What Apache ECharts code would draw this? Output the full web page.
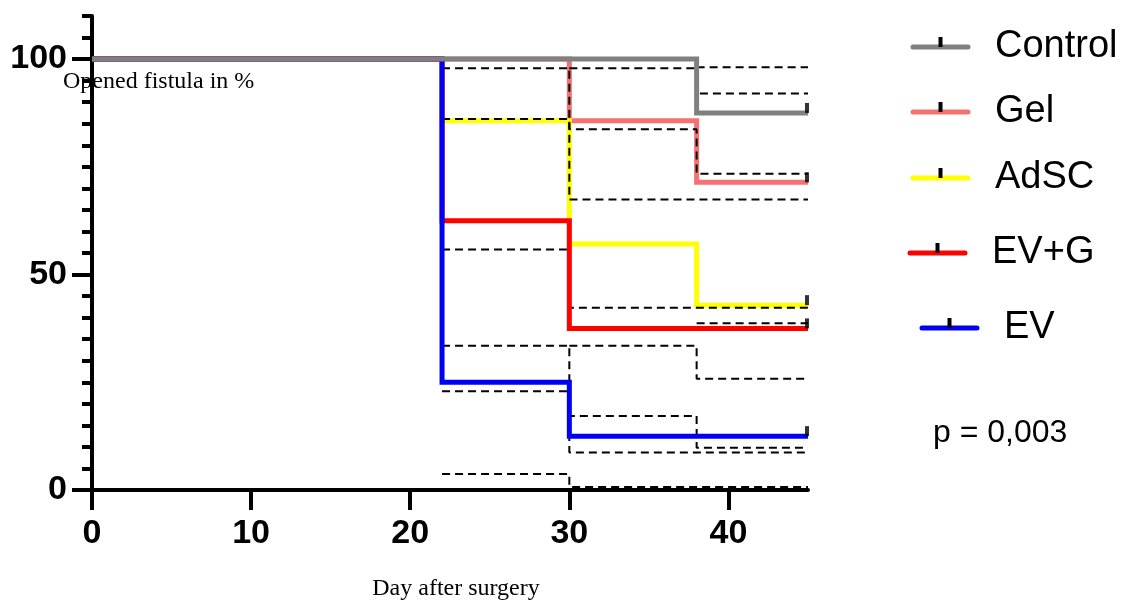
<!DOCTYPE html>
<html>
<head>
<meta charset="utf-8">
<title>Opened fistula – Kaplan-Meier</title>
<script src="https://cdn.jsdelivr.net/npm/echarts@6/dist/echarts.min.js"></script>
<style>
  html, body { margin: 0; padding: 0; background: #fff; }
  #chart { width: 1125px; height: 608px; }
</style>
</head>
<body>
<div id="chart"></div>
<script>
// Group names and colours
const groupNames = ['Control', 'Gel', 'AdSC', 'EV+G', 'EV'];
const groupColors = ['#808080', '#F47272', '#FFFF00', '#FF0000', '#0000F5'];

// Kaplan-Meier steps (% of fistulas still open)
const controlDays = [0, 38, 45];
const controlPct = [100, 87.5, 87.5];
const gelDays = [0, 30, 38, 45];
const gelPct = [100, 85.7, 71.4, 71.4];
const adscDays = [0, 22, 30, 38, 45];
const adscPct = [100, 85.7, 57.1, 42.9, 42.9];
const evgDays = [0, 22, 30, 45];
const evgPct = [100, 62.5, 37.5, 37.5];
const evDays = [0, 22, 30, 45];
const evPct = [100, 25.0, 12.5, 12.5];

// 95% confidence bounds, from the first closure onwards
const controlCiDays = [38, 45];
const controlLow = [38.7, 38.7];
const controlHigh = [98.1, 98.1];
const gelCiDays = [30, 38, 45];
const gelLow = [33.5, 25.8, 25.8];
const gelHigh = [97.9, 92.0, 92.0];
const adscCiDays = [22, 30, 38, 45];
const adscLow = [33.5, 17.2, 9.8, 9.8];
const adscHigh = [97.9, 83.7, 73.4, 73.4];
const evgCiDays = [22, 30, 45];
const evgLow = [22.9, 8.7, 8.7];
const evgHigh = [86.1, 67.4, 67.4];
const evCiDays = [22, 30, 45];
const evLow = [3.7, 0.7, 0.7];
const evHigh = [55.8, 42.3, 42.3];

// Axis ticks
const xTicks = [0, 10, 20, 30, 40];
const yTicks = [0, 50, 100];
const yMinorTicks = [5, 10, 15, 20, 25, 30, 35, 40, 45, 55, 60, 65, 70, 75, 80, 85, 90, 95, 105, 110];

const pValueText = 'p = 0,003';

const days = [controlDays, gelDays, adscDays, evgDays, evDays];
const pcts = [controlPct, gelPct, adscPct, evgPct, evPct];
const ciDays = [controlCiDays, gelCiDays, adscCiDays, evgCiDays, evCiDays];
const lows = [controlLow, gelLow, adscLow, evgLow, evLow];
const highs = [controlHigh, gelHigh, adscHigh, evgHigh, evHigh];

const pairs = (xs, ys) => xs.map((x, i) => [x, ys[i]]);

function curve(i) {
  return {
    name: groupNames[i],
    type: 'line',
    step: 'end',
    data: pairs(days[i], pcts[i]),
    showSymbol: false,
    clip: false,
    lineStyle: { color: groupColors[i], width: 5, cap: 'butt', join: 'miter' },
    emphasis: { disabled: true }
  };
}

function ciLine(i, vals) {
  return {
    type: 'line',
    step: 'end',
    data: pairs(ciDays[i], vals),
    showSymbol: false,
    clip: false,
    lineStyle: { color: '#000', width: 2, type: [8, 5] },
    emphasis: { disabled: true },
    silent: true
  };
}

const series = [];
// back curves
series.push(curve(1), curve(2));
// confidence bands (dashed)
for (let i = 0; i < groupNames.length; i++) {
  series.push(ciLine(i, lows[i]), ciLine(i, highs[i]));
}
// front curves
series.push(curve(3), curve(4), curve(0));
// censor marks at the last follow-up day
series.push({
  type: 'scatter',
  data: days.map((d, i) => [d[d.length - 1], pcts[i][pcts[i].length - 1]]),
  symbol: 'rect',
  symbolSize: [4, 10],
  symbolOffset: [-1, -5],
  itemStyle: { color: '#000' },
  clip: false,
  silent: true,
  z: 5
});

// legend: coloured line with a censor tick, then the name
const legendRows = [
  { x0: 913, x1: 968, y: 47, tx: 995 },
  { x0: 913, x1: 968, y: 112, tx: 995 },
  { x0: 913, x1: 968, y: 178, tx: 995 },
  { x0: 910, x1: 965, y: 253, tx: 992 },
  { x0: 922, x1: 977, y: 328, tx: 1004 }
];
const graphics = [];
legendRows.forEach((r, i) => {
  graphics.push({
    type: 'line',
    shape: { x1: r.x0, y1: r.y, x2: r.x1, y2: r.y },
    style: { stroke: groupColors[i], lineWidth: 5, lineCap: 'round' }
  });
  graphics.push({
    type: 'rect',
    shape: { x: (r.x0 + r.x1) / 2 - 2, y: r.y - 10, width: 4, height: 10 },
    style: { fill: '#000' }
  });
  graphics.push({
    type: 'text',
    x: r.tx, y: r.y,
    style: {
      text: groupNames[i], fill: '#000',
      font: '38px "Liberation Sans", Arial, sans-serif',
      textAlign: 'left', textVerticalAlign: 'middle'
    }
  });
});
graphics.push({
  type: 'text', x: 933, y: 433,
  style: {
    text: pValueText, fill: '#000',
    font: '32px "Liberation Sans", Arial, sans-serif',
    textAlign: 'left', textVerticalAlign: 'middle'
  }
});
graphics.push({
  type: 'text', x: 63, y: 82,
  style: {
    text: 'Opened fistula in %', fill: '#000',
    font: '24px "Liberation Serif", "Times New Roman", serif',
    textAlign: 'left', textVerticalAlign: 'middle'
  },
  z: 10
});
graphics.push({
  type: 'text', x: 456, y: 589,
  style: {
    text: 'Day after surgery', fill: '#000',
    font: '24px "Liberation Serif", "Times New Roman", serif',
    textAlign: 'center', textVerticalAlign: 'middle'
  }
});

const chart = echarts.init(document.getElementById('chart'), null, { renderer: 'canvas' });
chart.setOption({
  animation: false,
  backgroundColor: '#fff',
  grid: { left: 92, right: 317, top: 16, bottom: 118, containLabel: false },
  xAxis: {
    type: 'value', min: 0, max: 45, interval: 10,
    axisLine: { show: true, lineStyle: { color: '#000', width: 4 } },
    axisTick: { show: true, customValues: xTicks, length: 20, lineStyle: { color: '#000', width: 4 } },
    axisLabel: {
      customValues: xTicks, margin: 27, color: '#000',
      fontSize: 34, fontWeight: 'bold', fontFamily: '"Liberation Sans", Arial, sans-serif'
    },
    splitLine: { show: false }
  },
  yAxis: [{
    type: 'value', min: 0, max: 110, interval: 50,
    axisLine: { show: true, lineStyle: { color: '#000', width: 4 } },
    axisTick: { show: true, customValues: yTicks, length: 20, lineStyle: { color: '#000', width: 4 } },
    axisLabel: {
      customValues: yTicks, margin: 25, color: '#000',
      fontSize: 34, fontWeight: 'bold', fontFamily: '"Liberation Sans", Arial, sans-serif'
    },
    splitLine: { show: false }
  }, {
    type: 'value', min: 0, max: 110, position: 'left',
    axisLine: { show: false },
    axisTick: { show: true, customValues: yMinorTicks, length: 10, lineStyle: { color: '#000', width: 4 } },
    axisLabel: { show: false },
    splitLine: { show: false }
  }],
  series: series,
  graphic: graphics
});
</script>
</body>
</html>
